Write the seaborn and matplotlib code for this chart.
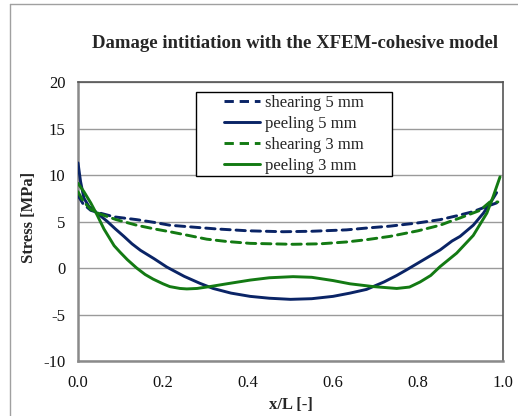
import numpy as np
import pandas as pd
import matplotlib
matplotlib.use("Agg")
import matplotlib.pyplot as plt
from matplotlib.patches import Rectangle
from matplotlib.lines import Line2D
import seaborn as sns

# ---- data ----
x_peel5 = [0.0, 0.006, 0.014, 0.026, 0.045, 0.069, 0.088, 0.108, 0.127, 0.147, 0.179, 0.209,
           0.25, 0.287, 0.318, 0.36, 0.405, 0.45, 0.5, 0.55, 0.6, 0.64, 0.679, 0.72, 0.75,
           0.773, 0.81, 0.852, 0.88, 0.899, 0.93, 0.954, 0.977, 0.985]
y_peel5 = [11.3, 9.3, 7.5, 6.6, 5.9, 5.0, 4.2, 3.4, 2.6, 1.9, 1.0, 0.1,
           -0.9, -1.65, -2.2, -2.7, -3.05, -3.25, -3.37, -3.3, -3.05, -2.7, -2.3, -1.5, -0.8,
           -0.2, 0.8, 1.94, 2.9, 3.4, 4.6, 5.9, 7.5, 8.1]

x_peel3 = [0.0, 0.014, 0.03, 0.045, 0.061, 0.085, 0.099, 0.116, 0.138, 0.158, 0.177, 0.2,
           0.216, 0.24, 0.256, 0.28, 0.31, 0.35, 0.405, 0.45, 0.506, 0.55, 0.6, 0.64,
           0.695, 0.75, 0.78, 0.805, 0.83, 0.852, 0.891, 0.93, 0.962, 0.977, 0.993]
y_peel3 = [9.1, 8.2, 7.0, 5.7, 4.2, 2.4, 1.7, 0.9, 0.0, -0.7, -1.2, -1.7,
           -2.0, -2.2, -2.25, -2.2, -2.0, -1.7, -1.3, -1.05, -0.93, -1.0, -1.35, -1.7,
           -2.0, -2.2, -2.05, -1.5, -0.8, 0.15, 1.6, 3.5, 5.9, 7.7, 9.8]

x_shear5 = [0.0, 0.012, 0.03, 0.052, 0.085, 0.138, 0.18, 0.216, 0.27, 0.326, 0.4, 0.483,
            0.55, 0.632, 0.68, 0.734, 0.8, 0.852, 0.89, 0.929, 0.955, 0.985]
y_shear5 = [7.8, 6.9, 6.2, 5.9, 5.5, 5.2, 4.9, 4.6, 4.4, 4.2, 4.0, 3.9,
            3.95, 4.1, 4.3, 4.5, 4.85, 5.2, 5.6, 6.05, 6.5, 7.0]

x_shear3 = [0.0, 0.012, 0.03, 0.052, 0.09, 0.138, 0.18, 0.216, 0.26, 0.303, 0.35, 0.405,
            0.506, 0.57, 0.632, 0.68, 0.734, 0.8, 0.852, 0.875, 0.9, 0.946, 0.969, 0.988]
y_shear3 = [8.2, 7.2, 6.3, 5.8, 5.2, 4.6, 4.2, 3.9, 3.5, 3.1, 2.85, 2.65,
            2.55, 2.6, 2.8, 3.05, 3.4, 4.0, 4.6, 5.0, 5.4, 6.2, 7.1, 7.1]

labels = ["shearing 5 mm", "peeling 5 mm", "shearing 3 mm", "peeling 3 mm"]
x_ticks = [0.0, 0.2, 0.4, 0.6, 0.8, 1.0]
y_ticks = [-10, -5, 0, 5, 10, 15, 20]

title = "Damage intitiation with the XFEM-cohesive model"
xlabel = "x/L [-]"
ylabel = "Stress [MPa]"

# ---- styling ----
sns.set_style("white")
plt.rcParams["font.family"] = ["Liberation Serif", "DejaVu Serif"]

NAVY = "#0a2466"
GREEN = "#137a13"
DASH = (0, (3.2, 2.0))
series = [
    (x_shear5, y_shear5, labels[0], NAVY, DASH),
    (x_peel5, y_peel5, labels[1], NAVY, "-"),
    (x_shear3, y_shear3, labels[2], GREEN, DASH),
    (x_peel3, y_peel3, labels[3], GREEN, "-"),
]

fig = plt.figure(figsize=(5.18, 4.16), dpi=100)
ax = fig.add_axes([78 / 518, 1 - 361 / 416, 425 / 518, 279 / 416])

for xs, ys, lab, col, ls in series:
    df = pd.DataFrame({"x": xs, "y": ys})
    sns.lineplot(data=df, x="x", y="y", ax=ax, color=col, lw=2.1,
                 linestyle=ls, sort=True, estimator=None, label=lab, zorder=3)
for ln in ax.get_lines():
    ln.set_solid_joinstyle("round")
    ln.set_dash_capstyle("round")

ax.set_xlim(0, 1)
ax.set_ylim(-10, 20)
ax.set_xticks(x_ticks)
ax.set_xticklabels([f"{t:.1f}" for t in x_ticks])
ax.set_yticks(y_ticks)
ax.set_yticklabels([str(t) for t in y_ticks])
ax.tick_params(axis="both", length=0, labelsize=12, colors="#111111")
ax.tick_params(axis="x", pad=10)
ax.tick_params(axis="y", pad=9)
ax.yaxis.grid(True, color="#9a9a9a", lw=1.0)
ax.xaxis.grid(False)
ax.set_axisbelow(True)

for side in ["left", "bottom"]:
    ax.spines[side].set_color("#8a8a8a")
    ax.spines[side].set_linewidth(1.8)
for side in ["top", "right"]:
    ax.spines[side].set_color("#555555")
    ax.spines[side].set_linewidth(1.2)

ax.set_xlabel(xlabel, fontsize=12, fontweight="bold")
ax.set_ylabel(ylabel, fontsize=12, fontweight="bold")
ax.xaxis.set_label_coords(0.5, -0.129)
ax.yaxis.set_label_coords(-0.096, 0.513)

# legend: white box with black edge, centered content
ax.get_legend().remove()
bx0, bx1 = (196 - 78) / 425, (392 - 78) / 425
by0, by1 = (361 - 176) / 279, (361 - 92) / 279
ax.add_patch(Rectangle((bx0, by0), bx1 - bx0, by1 - by0, transform=ax.transAxes,
                       facecolor="white", edgecolor="black", lw=1.0, zorder=4))
handles = [Line2D([], [], color=c, lw=2.1, linestyle=ls) for _, _, _, c, ls in series]
leg = ax.legend(handles, labels, loc="center",
                bbox_to_anchor=((bx0 + bx1) / 2, (by0 + by1) / 2),
                frameon=False, fontsize=12, handlelength=2.2, handletextpad=0.3,
                labelspacing=0.3, borderpad=0.0)
leg.set_zorder(5)

fig.text(295 / 518, 1 - 43 / 416, title, ha="center", va="center",
         fontsize=13.5, fontweight="bold")

# outer chart border (left and top edges visible)
fig.add_artist(Line2D([10 / 518, 10 / 518], [0, 1 - 4 / 416], transform=fig.transFigure,
                      color="#a0a0a0", lw=1.0))
fig.add_artist(Line2D([10 / 518, 1.0], [1 - 4 / 416, 1 - 4 / 416], transform=fig.transFigure,
                      color="#a0a0a0", lw=1.0))

fig.savefig("out.png", dpi=100)
